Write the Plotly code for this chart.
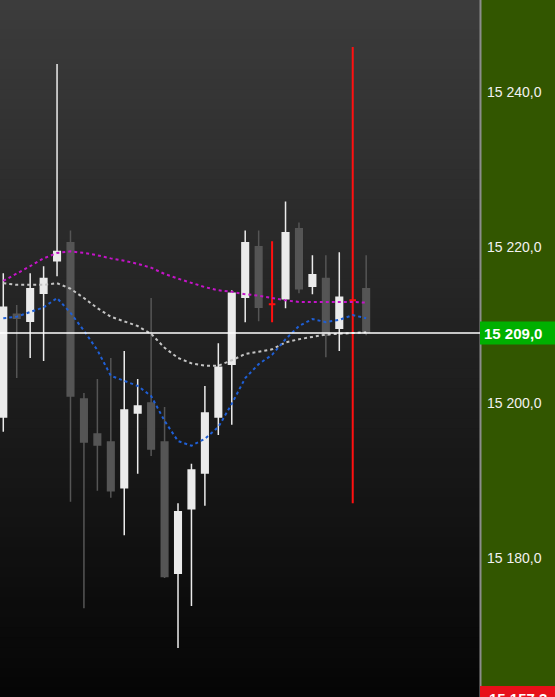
import plotly.graph_objects as go

# ---- data ----
idx = list(range(28))
open_ = [15198.2, 15211.4, 15210.5, 15214.1, 15218.3, 15220.6, 15200.5, 15196.0, 15195.0, 15189.1,
         15198.7, 15200.0, 15195.0, 15178.1, 15186.4, 15191.0, 15198.2, 15205.0, 15213.6, 15220.1,
         15212.7, 15213.4, 15222.4, 15215.0, 15216.0, 15209.6, 15213.2, 15214.7]
high = [15216.7, 15212.6, 15216.7, 15217.6, 15243.6, 15222.2, 15201.3, 15203.1, 15205.8, 15206.7,
        15203.1, 15213.5, 15199.5, 15187.1, 15192.2, 15202.2, 15207.7, 15214.5, 15222.2, 15222.2,
        15220.8, 15225.9, 15223.2, 15219.0, 15219.0, 15219.4, 15245.8, 15219.0]
low = [15196.3, 15203.2, 15205.8, 15205.4, 15216.3, 15187.3, 15173.6, 15188.7, 15187.8, 15183.0,
       15190.9, 15193.2, 15177.5, 15168.5, 15173.9, 15186.8, 15195.9, 15197.2, 15210.4, 15210.5,
       15210.4, 15212.2, 15214.1, 15214.0, 15205.9, 15206.7, 15187.1, 15208.7]
close = [15212.3, 15210.9, 15214.7, 15216.0, 15219.5, 15200.9, 15195.0, 15194.6, 15188.7, 15199.1,
         15199.6, 15194.1, 15177.7, 15186.0, 15191.4, 15198.7, 15204.6, 15214.1, 15220.6, 15212.3,
         15212.7, 15221.9, 15214.7, 15216.5, 15208.7, 15213.6, 15213.2, 15209.1]
marked = [20, 26]  # red cross candles

ma_magenta = [15215.7, 15216.6, 15217.6, 15218.6, 15219.3, 15219.5, 15219.3, 15219.0, 15218.6, 15218.3,
              15217.9, 15217.4, 15216.6, 15216.0, 15215.4, 15214.9, 15214.5, 15214.3, 15214.0, 15213.8,
              15213.5, 15213.2, 15213.0, 15213.0, 15213.0, 15213.0, 15213.0, 15212.9]
ma_grey = [15215.4, 15215.2, 15215.2, 15215.2, 15215.4, 15214.7, 15213.5, 15212.2, 15211.1, 15210.5,
           15209.9, 15208.9, 15207.1, 15205.8, 15205.1, 15204.8, 15204.8, 15205.5, 15206.3, 15206.6,
           15206.9, 15207.8, 15208.2, 15208.5, 15208.8, 15208.9, 15209.0, 15209.1]
ma_blue = [15210.9, 15211.1, 15211.7, 15212.3, 15213.5, 15211.6, 15209.3, 15206.8, 15203.5, 15202.8,
           15202.2, 15200.9, 15197.7, 15195.1, 15194.5, 15195.4, 15196.9, 15199.9, 15203.2, 15205.0,
           15206.2, 15208.2, 15209.9, 15210.8, 15210.4, 15210.7, 15211.3, 15210.9]

tick_vals = [15180, 15200, 15220, 15240]
tick_text = ["15 180,0", "15 200,0", "15 220,0", "15 240,0"]
current_price = 15209.0
current_label = "15 209,0"
low_price_label = "15 157,3"

# ---- figure ----
W, H = 555, 697
plot_right = 480 / W

normal = [i for i in idx if i not in marked]
fig = go.Figure()

fig.add_trace(go.Candlestick(
    x=normal,
    open=[open_[i] for i in normal], high=[high[i] for i in normal],
    low=[low[i] for i in normal], close=[close[i] for i in normal],
    increasing=dict(fillcolor="#ebebeb", line=dict(color="#ebebeb", width=1.5)),
    decreasing=dict(fillcolor="#555555", line=dict(color="#555555", width=1.5)),
    whiskerwidth=0, showlegend=False, hoverinfo="skip"))

fig.add_trace(go.Candlestick(
    x=marked,
    open=[open_[i] for i in marked], high=[high[i] for i in marked],
    low=[low[i] for i in marked], close=[close[i] for i in marked],
    increasing=dict(fillcolor="#ff1010", line=dict(color="#ff1010", width=2)),
    decreasing=dict(fillcolor="#ff1010", line=dict(color="#ff1010", width=2)),
    whiskerwidth=0, showlegend=False, hoverinfo="skip"))

for vals, col in [(ma_grey, "#c4c4c4"), (ma_magenta, "#c414c8"), (ma_blue, "#1f5fd6")]:
    fig.add_trace(go.Scatter(x=idx, y=vals, mode="lines",
                             line=dict(color=col, width=2, dash="dot"),
                             showlegend=False, hoverinfo="skip"))

shapes = []
# background gradient
n = 70
top = (60, 60, 60)
bot = (5, 5, 5)
for k in range(n):
    t = (k + 0.5) / n
    c = tuple(int(round(top[j] + (bot[j] - top[j]) * t)) for j in range(3))
    shapes.append(dict(type="rect", xref="paper", yref="paper",
                       x0=0, x1=plot_right, y0=1 - (k + 1) / n - 0.001, y1=1 - k / n,
                       fillcolor="rgb(%d,%d,%d)" % c, line=dict(width=0), layer="below"))
# separator
shapes.append(dict(type="line", xref="paper", yref="paper", x0=plot_right + 0.5 / W,
                   x1=plot_right + 0.5 / W, y0=0, y1=1, line=dict(color="#8c8c8c", width=2)))
# current price line
shapes.append(dict(type="line", xref="paper", yref="y", x0=0, x1=plot_right,
                   y0=current_price, y1=current_price, line=dict(color="#ffffff", width=1.5)))
# current price label box
shapes.append(dict(type="rect", xref="paper", yref="y", x0=plot_right, x1=1,
                   y0=current_price - 1.48, y1=current_price + 1.48,
                   fillcolor="#00b000", line=dict(width=0)))
# low label box
shapes.append(dict(type="rect", xref="paper", yref="paper", x0=plot_right, x1=1,
                   y0=-0.03, y1=11 / H, fillcolor="#e8101a", line=dict(width=0)))

annotations = [
    dict(xref="paper", yref="y", x=483 / W, y=current_price, xanchor="left", yanchor="middle",
         text="<b>" + current_label + "</b>", showarrow=False,
         font=dict(family="Liberation Sans, Arial", size=15, color="#ffffff"), borderpad=0),
    dict(xref="paper", yref="paper", x=488 / W, y=-1.5 / H, xanchor="left", yanchor="middle",
         text="<b>" + low_price_label + "</b>", showarrow=False,
         font=dict(family="Liberation Sans, Arial", size=15, color="#ffffff"), borderpad=0),
]

fig.update_layout(
    width=W, height=H,
    margin=dict(l=0, r=0, t=0, b=0),
    paper_bgcolor="#325600",
    plot_bgcolor="#1e1e1e",
    shapes=shapes,
    annotations=annotations,
    showlegend=False,
    xaxis=dict(domain=[0, plot_right], range=[-0.245, 35.47], visible=False,
               rangeslider=dict(visible=False), showgrid=False, zeroline=False),
    yaxis=dict(range=[15162.19, 15251.83], side="right", showgrid=False, zeroline=False,
               tickvals=tick_vals, ticktext=tick_text, ticks="", ticklabelstandoff=6,
               tickfont=dict(family="Liberation Sans, Arial", size=14, color="#f2f2f2"),
               showline=False),
)

fig.write_html("out.html", config={"displayModeBar": False},
               post_script="document.body.style.margin='0';document.body.style.overflow='hidden';")
